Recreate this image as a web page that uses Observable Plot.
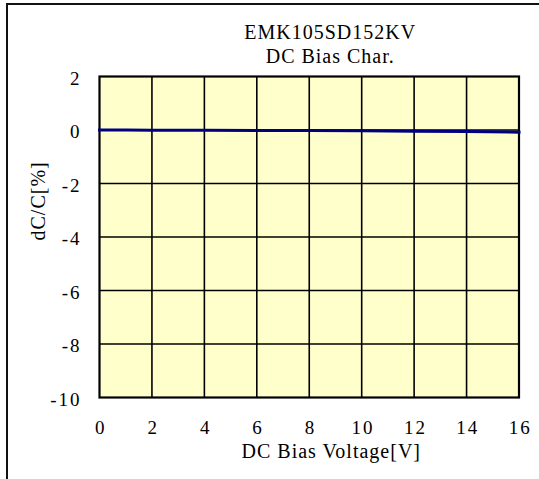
<!DOCTYPE html>
<html>
<head>
<meta charset="utf-8">
<script src="https://cdn.jsdelivr.net/npm/d3@7"></script>
<script src="https://cdn.jsdelivr.net/npm/@observablehq/plot@0.6"></script>
<style>
  html, body { margin: 0; padding: 0; background: #fff; }
  #wrap { position: relative; width: 539px; height: 479px; overflow: hidden; }
  #edge { position: absolute; left: 6px; top: 3px; width: 560px; height: 500px;
          border-top: 2px solid #111; border-left: 2px solid #111; box-sizing: border-box; pointer-events: none; }
</style>
</head>
<body>
<div id="wrap"><div id="edge"></div></div>
<script>
// Data
const titleLines = ["EMK105SD152KV", "DC Bias Char."];
const xLabel = "DC Bias Voltage[V]";
const yLabel = "dC/C[%]";
const voltage = [0, 1, 2, 4, 6, 8, 10, 12, 14, 16];
const dcdc    = [0, 0, -0.005, -0.01, -0.015, -0.02, -0.03, -0.045, -0.06, -0.08];
const xTicks = [0, 2, 4, 6, 8, 10, 12, 14, 16];
const yTicks = [-10, -8, -6, -4, -2, 0, 2];

const rows = voltage.map((v, i) => ({v, c: dcdc[i]}));
const font = "'Liberation Serif', 'Times New Roman', serif";

const chart = Plot.plot({
  width: 539,
  height: 479,
  marginLeft: 99,
  marginRight: 20.5,
  marginTop: 76,
  marginBottom: 82,
  style: {fontFamily: font, fontSize: "19px", background: "transparent", color: "#000"},
  x: {domain: [0, 16], axis: null},
  y: {domain: [-10, 2], axis: null},
  marks: [
    Plot.frame({fill: "#FFFFCC", stroke: "none"}),
    Plot.ruleX(xTicks.slice(1, -1), {stroke: "#000", strokeWidth: 1.6}),
    Plot.ruleY(yTicks.slice(1, -1), {stroke: "#000", strokeWidth: 1.6}),
    Plot.frame({stroke: "#000", strokeWidth: 2.2}),
    Plot.line(rows, {x: "v", y: "c", stroke: "#000080", strokeWidth: 3, strokeLinecap: "square"}),
    Plot.text(xTicks, {x: d => d, text: d => String(d), frameAnchor: "bottom", lineAnchor: "middle", dy: 30.5, dx: 1.25, fontSize: 19}),
    Plot.text(yTicks, {y: d => d, text: d => String(d), frameAnchor: "left", lineAnchor: "middle", textAnchor: "end", dx: -18, dy: 2, fontSize: 19}),
    Plot.text([titleLines[0]], {text: d => d, frameAnchor: "top", lineAnchor: "middle", dx: 21, dy: -43.8, fontSize: 20}),
    Plot.text([titleLines[1]], {text: d => d, frameAnchor: "top", lineAnchor: "middle", dx: 21, dy: -19.7, fontSize: 20}),
    Plot.text([xLabel], {text: d => d, frameAnchor: "bottom", lineAnchor: "middle", dx: 22, dy: 54.3, fontSize: 20}),
    Plot.text([yLabel], {text: d => d, frameAnchor: "left", lineAnchor: "middle", rotate: -90, dx: -61.4, dy: 3.5, fontSize: 20})
  ]
});
const textGroups = d3.select(chart).selectAll('g[aria-label="text"]').nodes();
textGroups.forEach((g, i) => {
  d3.select(g).selectAll("text")
    .style("letter-spacing", i < 2 ? "2px" : "1px")
    .style("font-family", font);
});
chart.style.position = "absolute";
chart.style.left = "0px";
chart.style.top = "0px";
document.getElementById("wrap").appendChild(chart);
</script>
</body>
</html>
